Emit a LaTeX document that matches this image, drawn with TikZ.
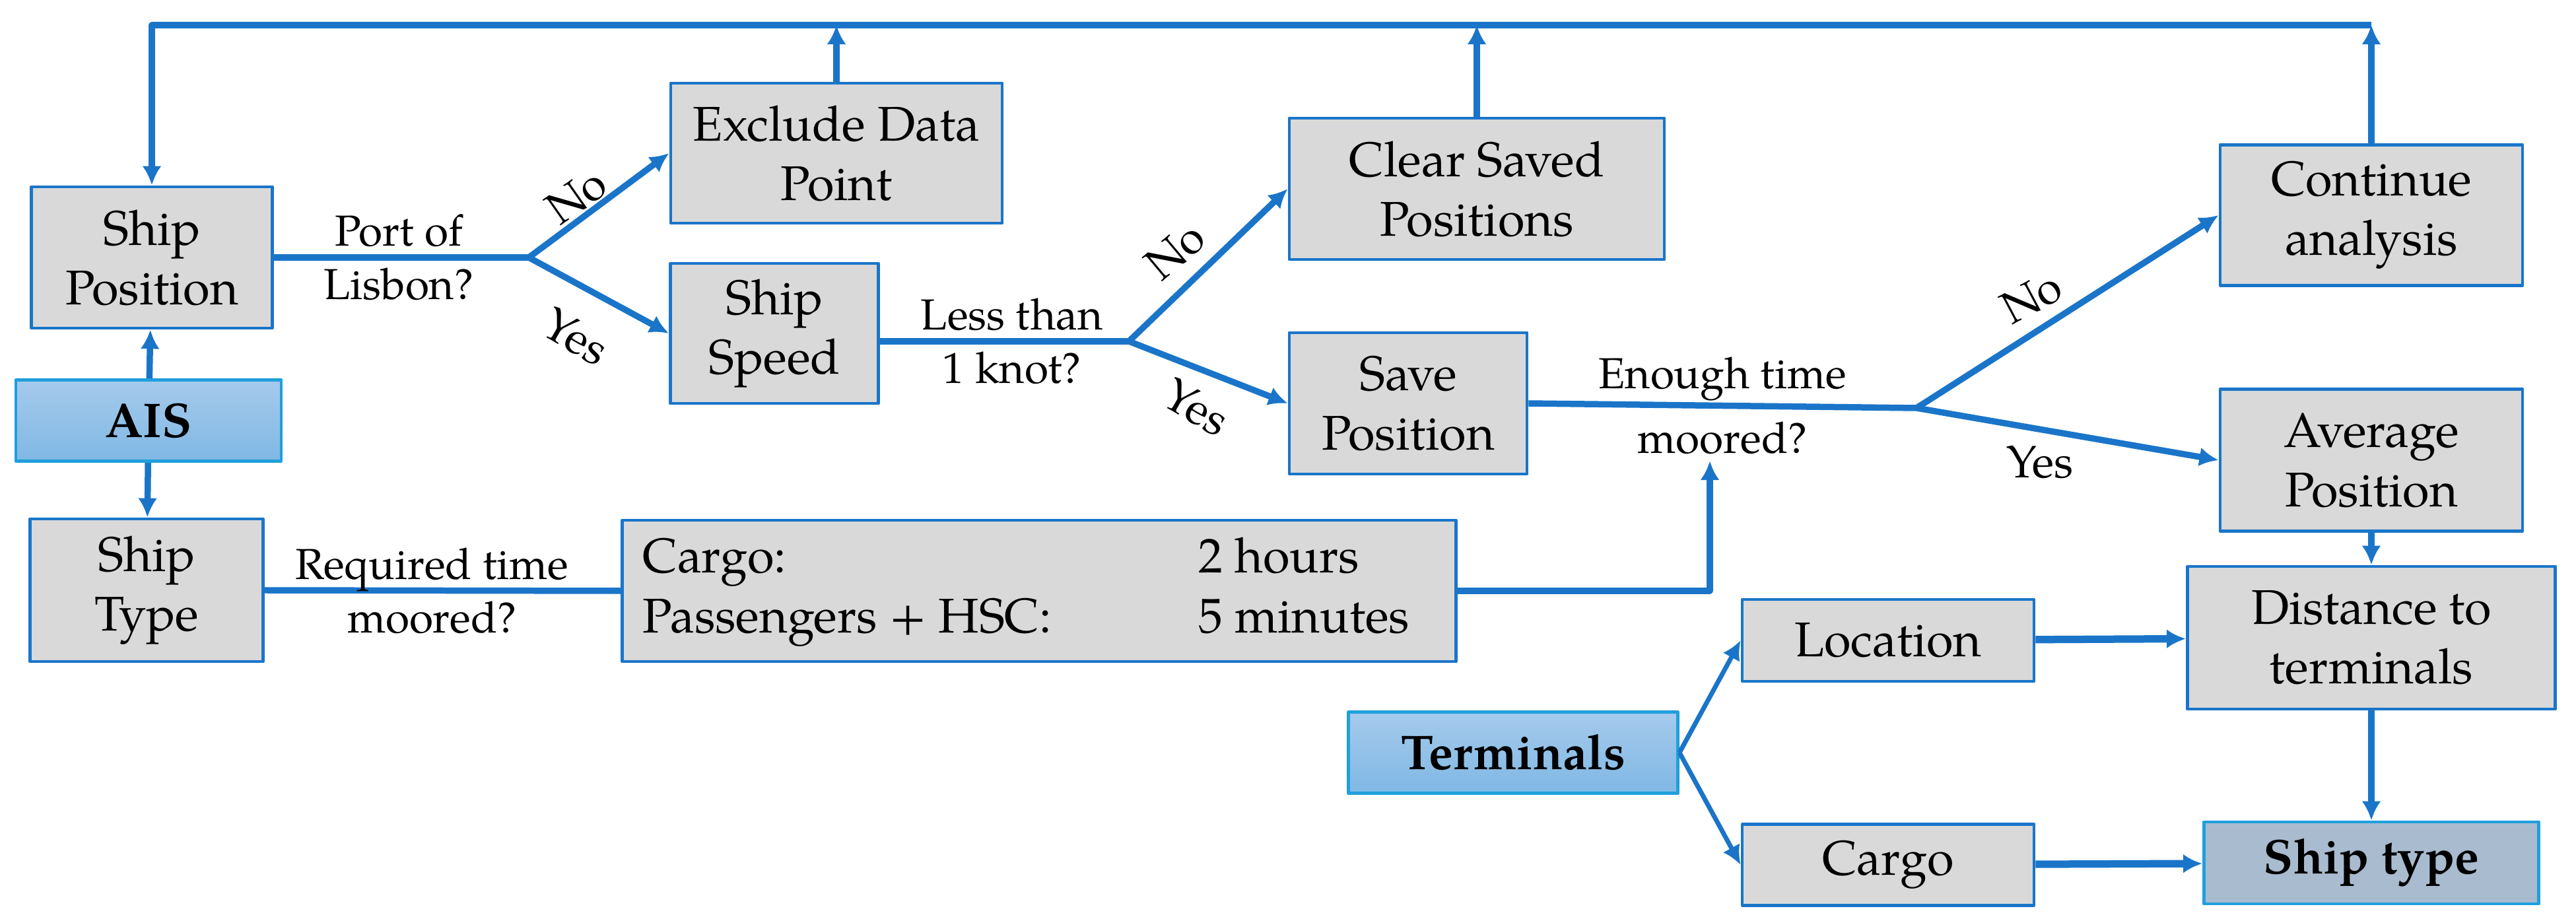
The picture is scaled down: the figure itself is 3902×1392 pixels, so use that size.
\documentclass[tikz,border=0pt]{standalone}
\usepackage{fontspec}
\setmainfont{texgyrepagella}[Extension=.otf,UprightFont=*-regular,BoldFont=*-bold,ItalicFont=*-italic,BoldItalicFont=*-bolditalic]
\usetikzlibrary{arrows.meta}
\definecolor{lineblue}{RGB}{26,117,201}
\definecolor{boxgray}{RGB}{217,217,217}
\definecolor{srcedge}{RGB}{32,160,220}
\definecolor{srctop}{RGB}{166,202,236}
\definecolor{srcbot}{RGB}{127,184,228}
\definecolor{resfill}{RGB}{169,187,207}
\newcommand{\boxfont}{\fontsize{21}{25.6}\selectfont}
\newcommand{\lblfont}{\fontsize{18.7}{23}\selectfont}
\tikzset{
	box/.style={draw=lineblue, line width=1.3pt, fill=boxgray, align=center,
		inner sep=0pt, font=\boxfont},
	srcbox/.style={box, draw=srcedge, top color=srctop, bottom color=srcbot,
		font=\boxfont\bfseries},
	conn/.style={draw=lineblue, line width=2.7pt},
	lbl/.style={font=\lblfont, align=center, inner sep=1pt},
	yesno/.style={font=\fontsize{19.5}{23}\selectfont, inner sep=0pt}
}
\begin{document}
\begin{tikzpicture}[x=0.01cm, y=-0.01cm, line join=round,
			>={Latex[length=0.29cm,width=0.29cm]}]
			\useasboundingbox (0,0) rectangle (3902,1392);
			% boxes
			\node[box, minimum width=3.65cm, minimum height=2.14cm] (shippos) at (230,390) {Ship\\Position};
			\node[srcbox, minimum width=4.02cm, minimum height=1.23cm] (ais) at (225,637) {AIS};
			\node[box, minimum width=3.53cm, minimum height=2.16cm] (shiptype) at (222,894) {Ship\\Type};
			\node[box, minimum width=5.02cm, minimum height=2.12cm] (exclude) at (1267,232) {Exclude Data\\Point};
			\node[box, minimum width=3.15cm, minimum height=2.12cm] (speed) at (1173,505) {Ship\\Speed};
			\node[box, minimum width=5.68cm, minimum height=2.14cm] (clear) at (2237,286) {Clear Saved\\Positions};
			\node[box, minimum width=3.6cm, minimum height=2.14cm] (save) at (2133,611) {Save\\Position};
			\node[box, minimum width=4.58cm, minimum height=2.13cm] (cont) at (3592,326) {Continue\\analysis};
			\node[box, minimum width=4.58cm, minimum height=2.15cm] (avg) at (3592,697) {Average\\Position};
			\node[box, minimum width=12.62cm, minimum height=2.14cm] (moortime) at (1574,895)
			{\begin{tabular}{@{}p{8.41cm}@{}p{3.59cm}@{}}Cargo: & 2 hours\\ Passengers + HSC: & 5 minutes\end{tabular}};
			\node[box, minimum width=5.57cm, minimum height=2.16cm] (dist) at (3592,966) {Distance to\\terminals};
			\node[srcbox, minimum width=4.99cm, minimum height=1.23cm] (term) at (2292,1140) {Terminals};
			\node[box, minimum width=4.42cm, minimum height=1.24cm] (loc) at (2860,970) {Location};
			\node[box, minimum width=4.42cm, minimum height=1.23cm] (cargo) at (2860,1310) {Cargo};
			\node[box, draw=srcedge, fill=resfill, font=\boxfont\bfseries, minimum width=5.07cm,
			minimum height=1.24cm] (result) at (3592,1307) {Ship type};
			% branch points
			\coordinate (b1) at (801,390);
			\coordinate (b2) at (1710,517);
			\coordinate (b3) at (2903,618);
			\coordinate (top) at (3592,38);
			\coordinate (tip) at (2590,698);
			% connectors
			\draw[conn,->] (ais) -- (shippos);
			\draw[conn,->] (ais) -- (shiptype);
			\draw[conn] (shippos.east) -- node[lbl,pos=0.49] {Port of\\Lisbon?} (b1);
			\draw[conn,->] (b1) -- (exclude.west);
			\draw[conn,->] (b1) -- (speed.west);
			\draw[conn] (speed.east |- b2) -- node[lbl,pos=0.53] {Less than\\1 knot?} (b2);
			\draw[conn,->] (b2) -- (clear.west);
			\draw[conn,->] (b2) -- (save.west);
			\draw[conn] (save.east) -- node[lbl,pos=0.5] {Enough time\\[5pt]moored?} (b3);
			\draw[conn,->] (b3) -- (cont.west);
			\draw[conn,->] (b3) -- (avg.west);
			\draw[conn] (shiptype.east) -- node[lbl,pos=0.47] {Required time\\moored?} (moortime.west);
			\draw[conn,->] (moortime.east) -| (tip);
			\foreach \n in {exclude,clear,cont}
			\draw[conn,->] (\n.north) -- (\n.north |- top);
			\draw[conn,->] (top) -| (shippos.north);
			\draw[conn,->] (avg) -- (dist);
			\draw[conn,->] (dist) -- (result);
			\draw[conn,->,line width=3.2pt] (loc) -- (dist);
			\draw[conn,->,line width=3.2pt] (cargo) -- (result);
			\foreach \n in {loc,cargo}
			\draw[conn,->,line width=2pt] (term.east) -- (\n.west);
			% yes / no
			\node[yesno, rotate=35] (no1) at (873,297) {No};
			\node[yesno, rotate=-30] (yes1) at (872,510) {Yes};
			\node[yesno, rotate=40] (no2) at (1780,380) {No};
			\node[yesno, rotate=-30] (yes2) at (1812,617) {Yes};
			\node[yesno, rotate=28] (no3) at (3077,450) {No};
			\node[yesno] (yes3) at (3090,700) {Yes};
	\end{tikzpicture}
\end{document}
